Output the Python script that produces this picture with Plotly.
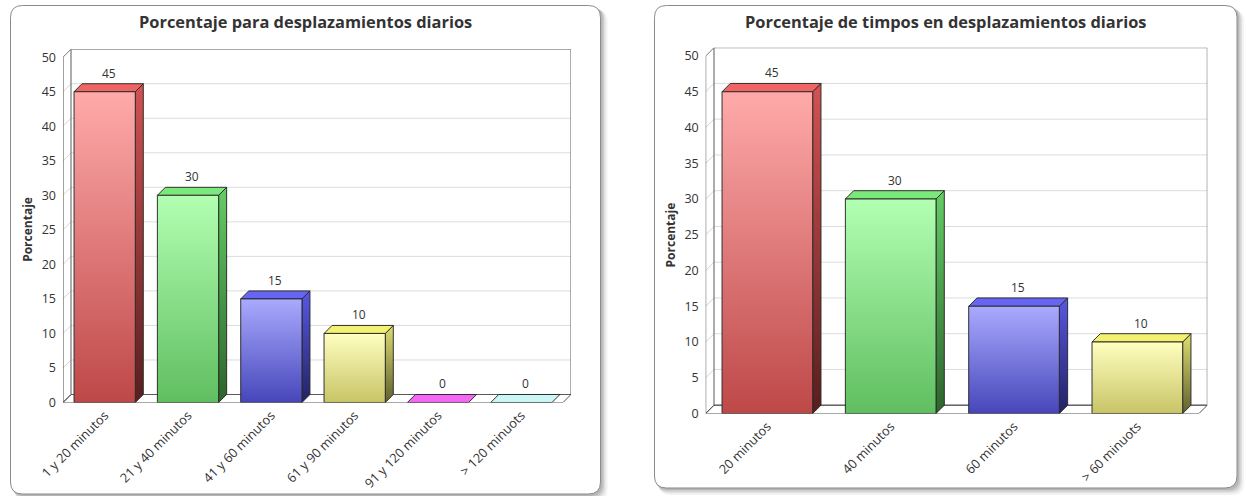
import plotly.graph_objects as go

# ---- data -------------------------------------------------------------
categorias_diarios = ["1 y 20 minutos", "21 y 40 minutos", "41 y 60 minutos",
                      "61 y 90 minutos", "91 y 120 minutos", "> 120 minuots"]
porcentajes_diarios = [45, 30, 15, 10, 0, 0]

categorias_tiempos = ["20 minutos", "40 minutos", "60 minutos", "> 60 minuots"]
porcentajes_tiempos = [45, 30, 15, 10]

ticks_y = [0, 5, 10, 15, 20, 25, 30, 35, 40, 45, 50]
y_max = 50

titulo_diarios = "Porcentaje para desplazamientos diarios"
titulo_tiempos = "Porcentaje de timpos en desplazamientos diarios"
titulo_eje_y = "Porcentaje"

# ---- styling ----------------------------------------------------------
W, H = 1246, 496
FONT = "Open Sans"
TXT = "#333333"

# per-series face colours: front (bottom, top), side (bottom, top), top face
PALETTE = [
    dict(front=("rgb(190,72,72)", "rgb(255,170,170)"),
         side=("rgb(88,30,30)", "rgb(212,82,82)"), top="rgb(240,100,100)"),
    dict(front=("rgb(96,190,96)", "rgb(178,255,178)"),
         side=("rgb(44,100,44)", "rgb(100,205,100)"), top="rgb(122,232,122)"),
    dict(front=("rgb(70,70,186)", "rgb(170,170,255)"),
         side=("rgb(34,34,100)", "rgb(88,88,228)"), top="rgb(102,102,242)"),
    dict(front=("rgb(200,196,102)", "rgb(255,255,192)"),
         side=("rgb(96,96,46)", "rgb(222,222,112)"), top="rgb(242,242,112)"),
    dict(front=("rgb(200,70,200)", "rgb(250,150,250)"),
         side=("rgb(100,30,100)", "rgb(220,90,220)"), top="rgb(242,104,242)"),
    dict(front=("rgb(150,220,220)", "rgb(215,250,250)"),
         side=("rgb(80,130,130)", "rgb(170,230,230)"), top="rgb(202,246,246)"),
]
OUTLINE = "rgba(40,40,40,0.95)"
BAR_W = 0.735


def px(x):
    return x / W


def py(y):
    return 1 - y / H


def rounded_path(x0, y0, x1, y1, r):
    """Rounded rectangle in paper units, from pixel corners."""
    pts = [
        ("M", (x0 + r, y0)), ("L", (x1 - r, y0)), ("Q", (x1, y0), (x1, y0 + r)),
        ("L", (x1, y1 - r)), ("Q", (x1, y1), (x1 - r, y1)),
        ("L", (x0 + r, y1)), ("Q", (x0, y1), (x0, y1 - r)),
        ("L", (x0, y0 + r)), ("Q", (x0, y0), (x0 + r, y0)),
    ]
    out = []
    for cmd, *coords in pts:
        out.append(cmd + " " + " ".join(f"{px(a):.5f},{py(b):.5f}" for a, b in coords))
    return " ".join(out) + " Z"


fig = go.Figure()
shapes = []
annotations = []


def panel(idx, cats, vals, title, box, front_left, front_right, zero_y, top_y, dx, dy):
    xa = "x" if idx == 1 else f"x{idx}"
    ya = "y" if idx == 1 else f"y{idx}"
    n = len(cats)
    cat_w = (front_right - front_left) / n
    k = (zero_y - top_y) / y_max
    dxu = dx / cat_w
    dyu = dy / k

    # card: soft shadow then white rounded box
    bx0, by0, bx1, by1 = box
    for s, a in [(7, 0.05), (5, 0.07), (3.5, 0.09), (2, 0.10)]:
        shapes.append(dict(type="path", xref="paper", yref="paper", layer="below",
                           path=rounded_path(bx0 + s * 0.6, by0 + s * 0.6, bx1 + s, by1 + s, 12),
                           fillcolor=f"rgba(0,0,0,{a})", line=dict(width=0)))
    shapes.append(dict(type="path", xref="paper", yref="paper", layer="below",
                       path=rounded_path(bx0, by0, bx1, by1, 12),
                       fillcolor="white", line=dict(color="#8a8a8a", width=1)))

    ax = dict(xref=xa, yref=ya, layer="below")
    left, right = -0.5, n - 0.5
    # floor
    shapes.append(dict(type="path", **ax,
                       path=f"M {left},0 L {right},0 L {right + dxu},{dyu} L {left + dxu},{dyu} Z",
                       fillcolor="white", line=dict(color="#555555", width=1)))
    # back-wall and side-wall grid
    for t in ticks_y[1:-1]:
        shapes.append(dict(type="line", **ax, x0=left + dxu, x1=right + dxu, y0=t + dyu, y1=t + dyu,
                           line=dict(color="#dcdcdc", width=1)))
        shapes.append(dict(type="line", **ax, x0=left, x1=left + dxu, y0=t, y1=t + dyu,
                           line=dict(color="#d4d4d4", width=1)))
    # back wall frame
    shapes.append(dict(type="rect", **ax, x0=left + dxu, x1=right + dxu, y0=dyu, y1=y_max + dyu,
                       line=dict(color="#5a5a5a", width=1)))
    shapes.append(dict(type="line", **ax, x0=left, x1=left + dxu, y0=y_max, y1=y_max + dyu,
                       line=dict(color="#777777", width=1)))
    shapes.append(dict(type="line", **ax, x0=left, x1=left + dxu, y0=0, y1=dyu,
                       line=dict(color="#555555", width=1)))
    shapes.append(dict(type="line", **ax, x0=left, x1=left, y0=0, y1=y_max,
                       line=dict(color="#444444", width=1)))

    # 3D bars
    for i, v in enumerate(vals):
        c = PALETTE[i % len(PALETTE)]
        x0, x1 = i - BAR_W / 2, i + BAR_W / 2
        faces = []
        if v > 0:
            faces.append(([x1, x1 + dxu, x1 + dxu, x1, x1], [0, dyu, v + dyu, v, 0],
                          dict(type="vertical", colorscale=[[0, c["side"][0]], [1, c["side"][1]]])))
        faces.append(([x0, x1, x1 + dxu, x0 + dxu, x0], [v, v, v + dyu, v + dyu, v],
                      dict(type="vertical", colorscale=[[0, c["top"]], [1, c["top"]]])))
        if v > 0:
            faces.append(([x0, x1, x1, x0, x0], [0, 0, v, v, 0],
                          dict(type="vertical", colorscale=[[0, c["front"][0]], [1, c["front"][1]]])))
        for fx, fy, grad in faces:
            fig.add_trace(go.Scatter(x=fx, y=fy, xaxis=xa, yaxis=ya, mode="lines",
                                     fill="toself", fillgradient=grad,
                                     line=dict(color=OUTLINE, width=1),
                                     hoverinfo="skip", showlegend=False))
        annotations.append(dict(xref=xa, yref=ya, x=i + dxu / 2, y=v + dyu, text=str(v),
                                showarrow=False, yanchor="bottom", yshift=0,
                                font=dict(family=FONT, size=12, color=TXT)))

    # titles
    annotations.append(dict(xref="paper", yref="paper", x=px((bx0 + bx1) / 2), y=py(22),
                            text=f"<b>{title}</b>", showarrow=False, xanchor="center", yanchor="middle",
                            font=dict(family=FONT, size=16.4, color=TXT)))
    annotations.append(dict(xref="paper", yref="paper", x=px(front_left - 35), y=py((zero_y + top_y) / 2),
                            text=f"<b>{titulo_eje_y}</b>", showarrow=False, textangle=-90,
                            xanchor="center", yanchor="middle",
                            font=dict(family=FONT, size=12, color=TXT)))

    xdom = [px(front_left), px(front_right + dx)]
    ydom = [py(zero_y), py(zero_y - (y_max + dyu) * k)]
    xaxis = dict(domain=xdom, range=[left, right + dxu], tickmode="array",
                 tickvals=list(range(n)), ticktext=cats, tickangle=-45,
                 showgrid=False, zeroline=False, showline=False, ticks="",
                 ticklabelstandoff=2, fixedrange=True, automargin=False,
                 tickfont=dict(family=FONT, size=12.8, color=TXT), anchor=ya)
    yaxis = dict(domain=ydom, range=[0, y_max + dyu], tickmode="array", tickvals=ticks_y,
                 showgrid=False, zeroline=False, showline=False, ticks="",
                 ticklabelstandoff=6, fixedrange=True, automargin=False,
                 tickfont=dict(family=FONT, size=12.5, color=TXT), anchor=xa)
    return xaxis, yaxis


xa1, ya1 = panel(1, categorias_diarios, porcentajes_diarios, titulo_diarios,
                 box=(10.5, 5.5, 600.5, 494), front_left=63, front_right=563,
                 zero_y=402.5, top_y=57.2, dx=8, dy=8)
xa2, ya2 = panel(2, categorias_tiempos, porcentajes_tiempos, titulo_tiempos,
                 box=(654.5, 5.5, 1237, 488), front_left=705.7, front_right=1199,
                 zero_y=413.5, top_y=56, dx=8.3, dy=8.3)

fig.update_layout(
    width=W, height=H, margin=dict(l=0, r=0, t=0, b=0, autoexpand=False),
    paper_bgcolor="white", plot_bgcolor="rgba(0,0,0,0)",
    xaxis=xa1, yaxis=ya1, xaxis2=xa2, yaxis2=ya2,
    shapes=shapes, annotations=annotations, showlegend=False,
    font=dict(family=FONT, color=TXT),
)

fig.write_html("out.html", config=dict(displayModeBar=False))
